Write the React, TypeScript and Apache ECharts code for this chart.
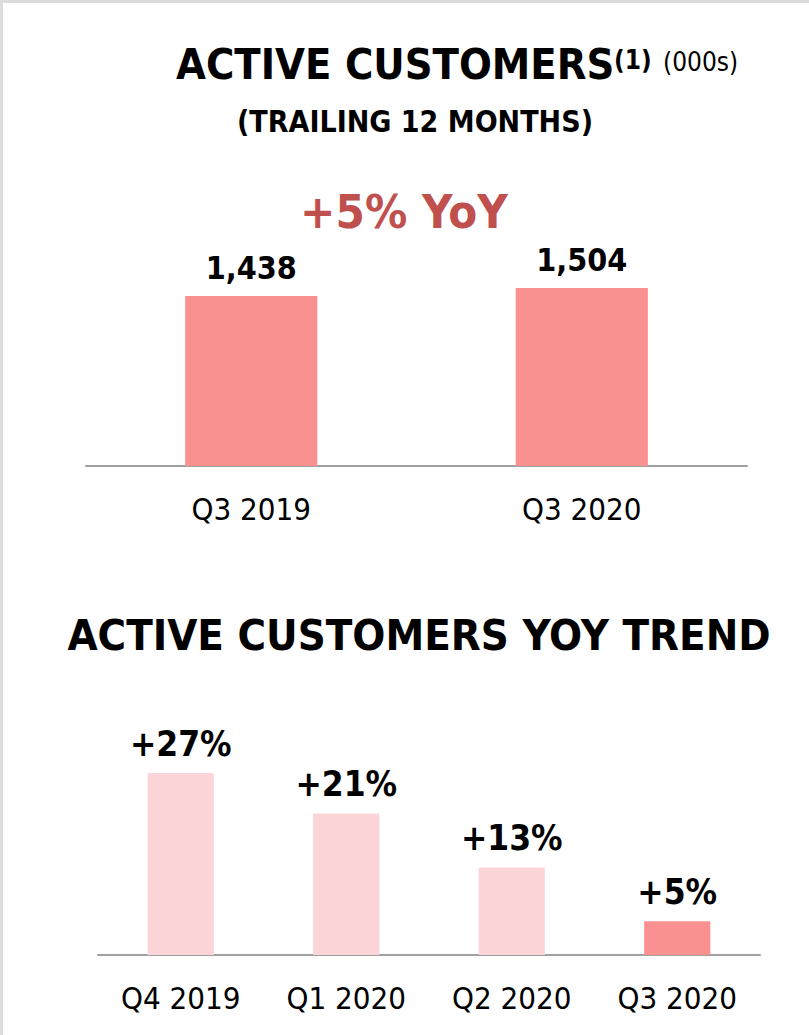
import React, { useEffect, useRef } from "react";
import * as echarts from "echarts";

const topCategories = ["Q3 2019", "Q3 2020"];
const topValues = [1438, 1504];
const topLabels = ["1,438", "1,504"];

const trendCategories = ["Q4 2019", "Q1 2020", "Q2 2020", "Q3 2020"];
const trendValues = [27, 21, 13, 5];
const trendLabels = ["+27%", "+21%", "+13%", "+5%"];
const trendColors = ["#FCD5D9", "#FCD5D9", "#FCD5D9", "#FA9191"];

const FONT = "'DejaVu Sans Condensed', 'DejaVu Sans', sans-serif";

export default function App() {
  const ref = useRef<HTMLDivElement>(null);
  useEffect(() => {
    if (!ref.current) return;
    const chart = echarts.init(ref.current, null, { renderer: "svg" });
    const axisLine = { show: true, lineStyle: { color: "#A0A0A0", width: 2 } };
    const catLabel = { color: "#000", fontFamily: FONT, fontSize: 31, margin: 27 };
    chart.setOption({
      animation: false,
      backgroundColor: "#fff",
      textStyle: { fontFamily: FONT },
      grid: [
        { left: 86, top: 229.4, width: 661, height: 236.6 },
        { left: 98, top: 752.8, width: 662, height: 202.2 },
      ],
      xAxis: [
        {
          gridIndex: 0, type: "category", data: topCategories,
          axisLine, axisTick: { show: false }, axisLabel: catLabel,
        },
        {
          gridIndex: 1, type: "category", data: trendCategories,
          axisLine, axisTick: { show: false }, axisLabel: catLabel,
        },
      ],
      yAxis: [
        { gridIndex: 0, type: "value", min: 0, max: 2000, show: false, splitLine: { show: false } },
        { gridIndex: 1, type: "value", min: 0, max: 30, show: false, splitLine: { show: false } },
      ],
      series: [
        {
          type: "bar", xAxisIndex: 0, yAxisIndex: 0, barWidth: "40%",
          data: topValues,
          itemStyle: { color: "#FA9191" },
          label: {
            show: true, position: "top", distance: 12,
            formatter: (p: any) => topLabels[p.dataIndex],
            color: "#000", fontWeight: "bold", fontFamily: FONT, fontSize: 32,
          },
        },
        {
          type: "bar", xAxisIndex: 1, yAxisIndex: 1, barWidth: "40%",
          data: trendValues.map((v, i) => ({ value: v, itemStyle: { color: trendColors[i] } })),
          label: {
            show: true, position: "top", distance: 12,
            formatter: (p: any) => trendLabels[p.dataIndex],
            color: "#000", fontWeight: "bold", fontFamily: FONT, fontSize: 35,
          },
        },
      ],
      graphic: [
        { type: "rect", shape: { x: 0, y: 0, width: 809, height: 3 }, style: { fill: "#DCDCDC" } },
        { type: "rect", shape: { x: 0, y: 0, width: 3, height: 1035 }, style: { fill: "#DCDCDC" } },
        {
          type: "text", x: 176, y: 64,
          style: { text: "ACTIVE CUSTOMERS", fontFamily: FONT, fontWeight: "bold", fontSize: 43, fill: "#000", textAlign: "left", textVerticalAlign: "middle" },
        },
        {
          type: "text", x: 614, y: 60,
          style: { text: "(1)", fontFamily: FONT, fontWeight: "bold", fontSize: 26, fill: "#000", textAlign: "left", textVerticalAlign: "middle" },
        },
        {
          type: "text", x: 663, y: 62,
          style: { text: "(000s)", fontFamily: FONT, fontSize: 26, fill: "#000", textAlign: "left", textVerticalAlign: "middle" },
        },
        {
          type: "text", x: 415, y: 121,
          style: { text: "(TRAILING 12 MONTHS)", fontFamily: FONT, fontWeight: "bold", fontSize: 30, fill: "#000", textAlign: "center", textVerticalAlign: "middle" },
        },
        {
          type: "text", x: 404, y: 211,
          style: { text: "+5% YoY", fontFamily: FONT, fontWeight: "bold", fontSize: 47, fill: "#C0504D", textAlign: "center", textVerticalAlign: "middle" },
        },
        {
          type: "text", x: 419, y: 635,
          style: { text: "ACTIVE CUSTOMERS YOY TREND", fontFamily: FONT, fontWeight: "bold", fontSize: 43.3, fill: "#000", textAlign: "center", textVerticalAlign: "middle" },
        },
      ],
    });
    return () => chart.dispose();
  }, []);
  return (
    <div
      ref={ref}
      style={{ position: "absolute", left: 0, top: 0, width: 809, height: 1035 }}
    />
  );
}
